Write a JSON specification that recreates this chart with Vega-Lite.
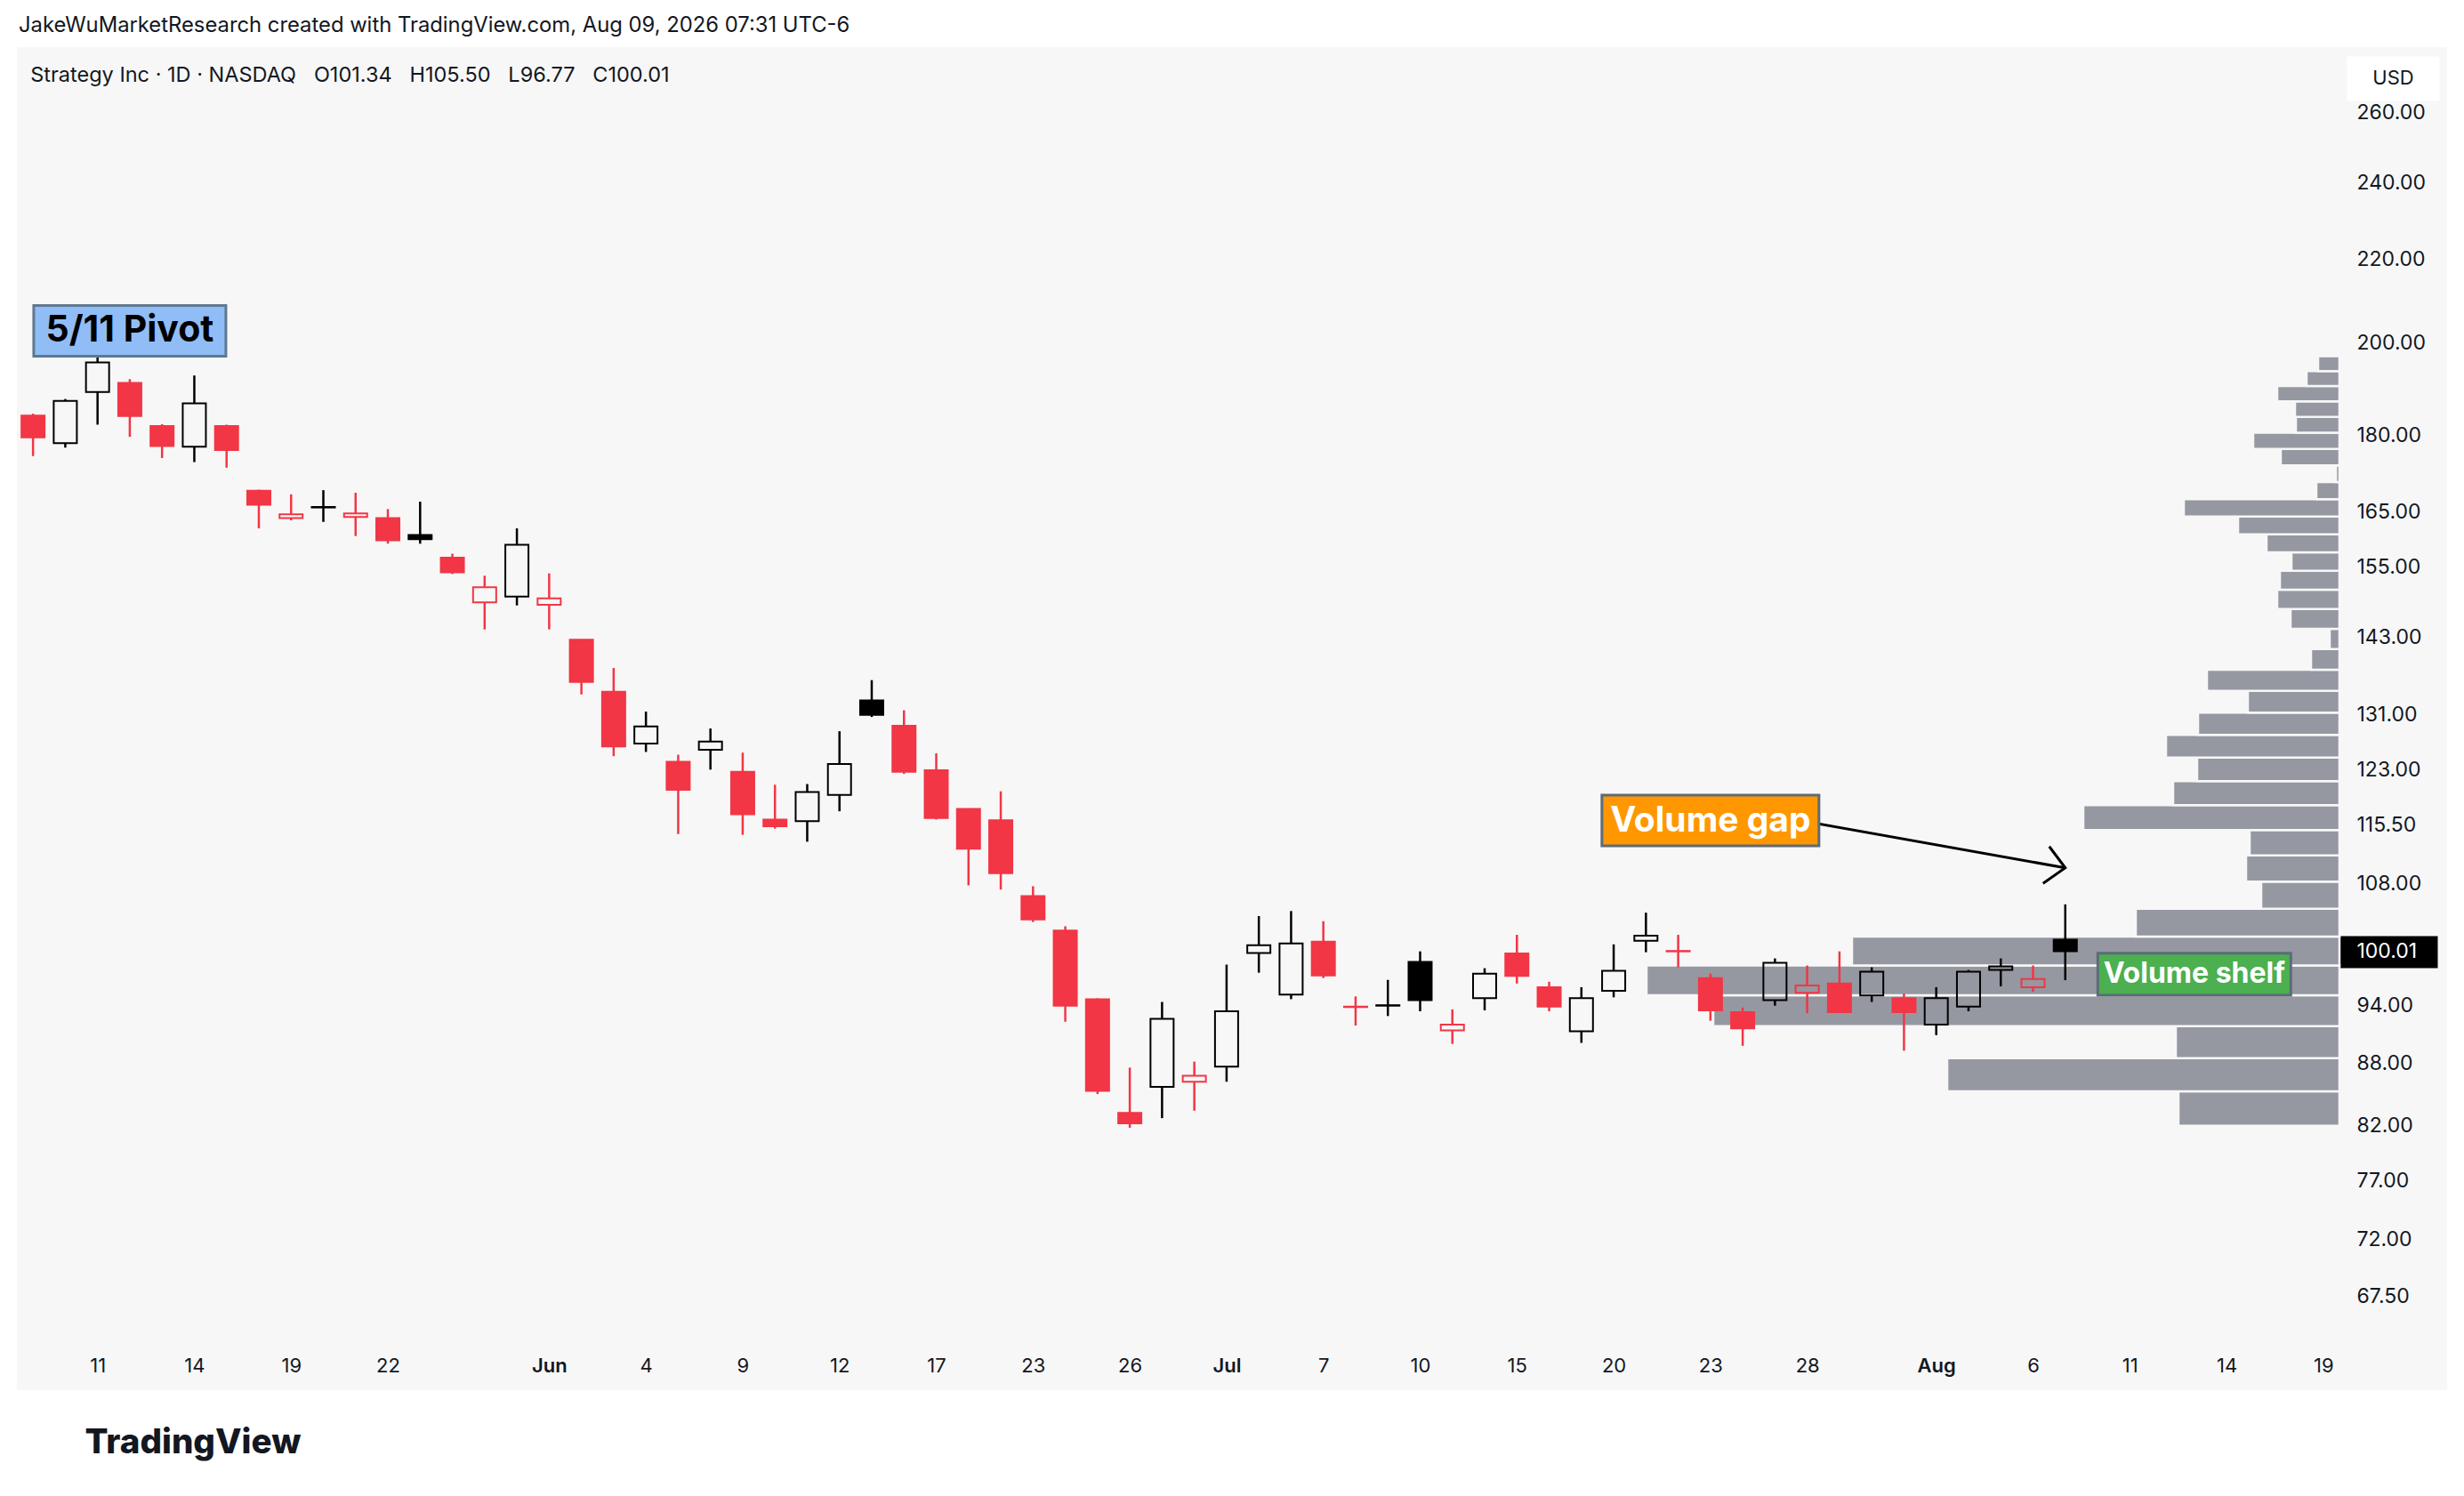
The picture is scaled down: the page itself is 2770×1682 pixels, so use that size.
{
  "$schema": "https://vega.github.io/schema/vega-lite/v6.json",
  "autosize": {"type": "none"},
  "padding": {"left": 19, "top": 53, "right": 19, "bottom": 119},
  "width": 2732,
  "height": 1510,
  "config": {
    "background": "#ffffff",
    "view": {"fill": "#f7f7f7", "stroke": null},
    "font": "Inter"
  },
  "title": {
    "text": "JakeWuMarketResearch created with TradingView.com, Aug 09, 2026 07:31 UTC-6",
    "subtitle": "\u200b\u00a0\u00a0Strategy Inc · 1D · NASDAQ\u00a0\u00a0\u00a0O101.34\u00a0\u00a0\u00a0H105.50\u00a0\u00a0\u00a0L96.77\u00a0\u00a0\u00a0C100.01",
    "anchor": "start",
    "frame": "group",
    "offset": -85,
    "subtitlePadding": 32,
    "dx": 2,
    "font": "Inter",
    "fontSize": 23.8,
    "fontWeight": "normal",
    "color": "#131722",
    "subtitleFont": "Inter",
    "subtitleFontSize": 23.5,
    "subtitleColor": "#131722"
  },
  "datasets": {
    "candles": [
      {"date": "2026-05-07", "open": 184.1, "high": 184.5, "low": 175.8, "close": 179.6},
      {"date": "2026-05-08", "open": 178.4, "high": 187.6, "low": 177.5, "close": 187.2},
      {"date": "2026-05-11", "open": 189.1, "high": 197.5, "low": 182.2, "close": 195.6},
      {"date": "2026-05-12", "open": 191.1, "high": 191.9, "low": 179.7, "close": 184.0},
      {"date": "2026-05-13", "open": 181.9, "high": 182.3, "low": 175.4, "close": 177.8},
      {"date": "2026-05-14", "open": 177.7, "high": 192.7, "low": 174.6, "close": 186.7},
      {"date": "2026-05-15", "open": 181.9, "high": 182.2, "low": 173.5, "close": 177.0},
      {"date": "2026-05-18", "open": 169.0, "high": 169.2, "low": 161.9, "close": 166.3},
      {"date": "2026-05-19", "open": 163.8, "high": 168.3, "low": 163.4, "close": 164.5},
      {"date": "2026-05-20", "open": 165.8, "high": 169.1, "low": 163.1, "close": 165.9},
      {"date": "2026-05-21", "open": 164.0, "high": 168.6, "low": 160.5, "close": 164.7},
      {"date": "2026-05-22", "open": 163.8, "high": 165.5, "low": 159.1, "close": 159.7},
      {"date": "2026-05-26", "open": 160.7, "high": 166.9, "low": 159.1, "close": 159.9},
      {"date": "2026-05-27", "open": 156.6, "high": 157.3, "low": 153.7, "close": 154.0},
      {"date": "2026-05-28", "open": 148.8, "high": 153.4, "low": 144.3, "close": 151.4},
      {"date": "2026-05-29", "open": 149.8, "high": 161.9, "low": 148.3, "close": 158.9},
      {"date": "2026-06-01", "open": 148.4, "high": 153.8, "low": 144.3, "close": 149.5},
      {"date": "2026-06-02", "open": 142.6, "high": 142.7, "low": 134.0, "close": 135.9},
      {"date": "2026-06-03", "open": 134.4, "high": 138.1, "low": 124.9, "close": 126.3},
      {"date": "2026-06-04", "open": 126.7, "high": 131.4, "low": 125.5, "close": 129.2},
      {"date": "2026-06-05", "open": 124.1, "high": 125.1, "low": 114.3, "close": 120.2},
      {"date": "2026-06-08", "open": 125.8, "high": 128.9, "low": 123.0, "close": 127.0},
      {"date": "2026-06-09", "open": 122.7, "high": 125.4, "low": 114.2, "close": 116.9},
      {"date": "2026-06-10", "open": 116.2, "high": 120.9, "low": 115.0, "close": 115.3},
      {"date": "2026-06-11", "open": 116.0, "high": 121.0, "low": 113.3, "close": 119.9},
      {"date": "2026-06-12", "open": 119.5, "high": 128.5, "low": 117.3, "close": 123.8},
      {"date": "2026-06-15", "open": 133.1, "high": 136.2, "low": 130.6, "close": 130.9},
      {"date": "2026-06-16", "open": 129.3, "high": 131.6, "low": 122.4, "close": 122.7},
      {"date": "2026-06-17", "open": 122.9, "high": 125.3, "low": 116.2, "close": 116.4},
      {"date": "2026-06-18", "open": 117.6, "high": 117.7, "low": 107.8, "close": 112.4},
      {"date": "2026-06-22", "open": 116.1, "high": 120.0, "low": 107.3, "close": 109.3},
      {"date": "2026-06-23", "open": 106.5, "high": 107.7, "low": 103.4, "close": 103.7},
      {"date": "2026-06-24", "open": 102.4, "high": 102.9, "low": 92.3, "close": 94.0},
      {"date": "2026-06-25", "open": 94.7, "high": 94.8, "low": 85.0, "close": 85.3},
      {"date": "2026-06-26", "open": 83.2, "high": 87.6, "low": 81.8, "close": 82.2},
      {"date": "2026-06-29", "open": 85.7, "high": 94.4, "low": 82.7, "close": 92.6},
      {"date": "2026-06-30", "open": 86.2, "high": 88.2, "low": 83.4, "close": 86.8},
      {"date": "2026-07-01", "open": 87.7, "high": 98.5, "low": 86.2, "close": 93.4},
      {"date": "2026-07-02", "open": 99.8, "high": 104.1, "low": 97.6, "close": 100.7},
      {"date": "2026-07-06", "open": 95.2, "high": 104.7, "low": 94.7, "close": 100.9},
      {"date": "2026-07-07", "open": 101.1, "high": 103.5, "low": 97.0, "close": 97.3},
      {"date": "2026-07-08", "open": 93.9, "high": 95.0, "low": 91.9, "close": 93.85},
      {"date": "2026-07-09", "open": 94.0, "high": 96.8, "low": 92.9, "close": 94.05},
      {"date": "2026-07-10", "open": 98.8, "high": 100.0, "low": 93.4, "close": 94.6},
      {"date": "2026-07-13", "open": 91.4, "high": 93.6, "low": 90.0, "close": 92.0},
      {"date": "2026-07-14", "open": 94.8, "high": 98.1, "low": 93.5, "close": 97.5},
      {"date": "2026-07-15", "open": 99.75, "high": 101.9, "low": 96.4, "close": 97.25},
      {"date": "2026-07-16", "open": 96.0, "high": 96.6, "low": 93.4, "close": 93.9},
      {"date": "2026-07-17", "open": 91.3, "high": 96.0, "low": 90.1, "close": 94.8},
      {"date": "2026-07-20", "open": 95.6, "high": 100.8, "low": 94.9, "close": 97.8},
      {"date": "2026-07-21", "open": 101.2, "high": 104.5, "low": 99.9, "close": 101.8},
      {"date": "2026-07-22", "open": 100.05, "high": 101.9, "low": 98.2, "close": 100.0},
      {"date": "2026-07-23", "open": 97.0, "high": 97.5, "low": 92.4, "close": 93.5},
      {"date": "2026-07-24", "open": 93.3, "high": 93.8, "low": 89.8, "close": 91.6},
      {"date": "2026-07-27", "open": 94.6, "high": 99.2, "low": 94.0, "close": 98.7},
      {"date": "2026-07-28", "open": 95.4, "high": 98.4, "low": 93.2, "close": 96.2},
      {"date": "2026-07-29", "open": 96.4, "high": 100.0, "low": 93.2, "close": 93.3},
      {"date": "2026-07-30", "open": 95.1, "high": 98.2, "low": 94.4, "close": 97.7},
      {"date": "2026-07-31", "open": 94.8, "high": 95.3, "low": 89.3, "close": 93.3},
      {"date": "2026-08-03", "open": 92.0, "high": 96.0, "low": 90.9, "close": 94.8},
      {"date": "2026-08-04", "open": 93.9, "high": 97.9, "low": 93.4, "close": 97.7},
      {"date": "2026-08-05", "open": 97.9, "high": 99.2, "low": 96.1, "close": 98.3},
      {"date": "2026-08-06", "open": 96.0, "high": 98.4, "low": 95.5, "close": 96.9},
      {"date": "2026-08-07", "open": 101.34, "high": 105.5, "low": 96.77, "close": 100.01}
    ],
    "profile": [
      {"lo": 81.98, "hi": 85.27, "vol": 18.1},
      {"lo": 85.27, "hi": 88.55, "vol": 44.1},
      {"lo": 88.55, "hi": 91.84, "vol": 18.4},
      {"lo": 91.84, "hi": 95.12, "vol": 70.4},
      {"lo": 95.12, "hi": 98.41, "vol": 77.9},
      {"lo": 98.41, "hi": 101.69, "vol": 54.8},
      {"lo": 101.69, "hi": 104.98, "vol": 22.9},
      {"lo": 104.98, "hi": 108.26, "vol": 8.8},
      {"lo": 108.26, "hi": 111.55, "vol": 10.5},
      {"lo": 111.55, "hi": 114.83, "vol": 10.1},
      {"lo": 114.83, "hi": 118.12, "vol": 28.8},
      {"lo": 118.12, "hi": 121.4, "vol": 18.7},
      {"lo": 121.4, "hi": 124.69, "vol": 16.0},
      {"lo": 124.69, "hi": 127.97, "vol": 19.5},
      {"lo": 127.97, "hi": 131.26, "vol": 15.9},
      {"lo": 131.26, "hi": 134.54, "vol": 10.3},
      {"lo": 134.54, "hi": 137.83, "vol": 14.9},
      {"lo": 137.83, "hi": 141.11, "vol": 3.2},
      {"lo": 141.11, "hi": 144.4, "vol": 1.1},
      {"lo": 144.4, "hi": 147.68, "vol": 5.5},
      {"lo": 147.68, "hi": 150.97, "vol": 7.0},
      {"lo": 150.97, "hi": 154.25, "vol": 6.7},
      {"lo": 154.25, "hi": 157.54, "vol": 5.4},
      {"lo": 157.54, "hi": 160.82, "vol": 8.2},
      {"lo": 160.82, "hi": 164.11, "vol": 11.4},
      {"lo": 164.11, "hi": 167.39, "vol": 17.5},
      {"lo": 167.39, "hi": 170.68, "vol": 2.6},
      {"lo": 170.68, "hi": 173.96, "vol": 0.4},
      {"lo": 173.96, "hi": 177.25, "vol": 6.6},
      {"lo": 177.25, "hi": 180.53, "vol": 9.7},
      {"lo": 180.53, "hi": 183.82, "vol": 4.9},
      {"lo": 183.82, "hi": 187.1, "vol": 5.0},
      {"lo": 187.1, "hi": 190.39, "vol": 7.0},
      {"lo": 190.39, "hi": 193.67, "vol": 3.7},
      {"lo": 193.67, "hi": 196.96, "vol": 2.4}
    ],
    "notes": [
      {"text": "5/11 Pivot", "date": "2026-05-12", "lo": 197.0, "hi": 208.7, "mid": 202.8},
      {"text": "Volume gap", "date": "2026-07-23", "lo": 112.77, "hi": 119.47, "mid": 116.07},
      {"text": "Volume shelf", "date": "2026-08-13", "lo": 95.12, "hi": 99.79, "mid": 97.43}
    ],
    "arrow": [
      {"date": "2026-07-28", "price": 115.9},
      {"date": "2026-08-07", "price": 109.98}
    ]
  },
  "resolve": {"scale": {"x": "independent"}},
  "layer": [
    {
      "data": {"name": "profile"},
      "mark": {"type": "rect", "color": "#9598a1", "stroke": "#f7f7f7", "strokeWidth": 2.5},
      "encoding": {
        "x": {
          "field": "vol",
          "type": "quantitative",
          "scale": {"domain": [-12.1, 261.1], "range": [2732, 0], "nice": false, "zero": false},
          "axis": {
            "orient": "top",
            "offset": -10,
            "values": [-6],
            "labelExpr": "'USD'",
            "domain": false,
            "grid": false,
            "ticks": true,
            "tickSize": -50,
            "tickWidth": 104,
            "tickCap": "butt",
            "tickColor": "#ffffff",
            "labelPadding": 26,
            "labelBaseline": "middle",
            "labelAlign": "center",
            "labelAngle": 0,
            "labelFont": "Inter",
            "labelFontSize": 22,
            "labelColor": "#131722",
            "labelBound": false,
            "labelFlush": false,
            "labelOverlap": false,
            "title": null
          }
        },
        "x2": {"datum": 0},
        "y": {
          "field": "lo",
          "type": "quantitative",
          "scale": {"type": "log", "domain": [64.01, 280.1], "range": [1457, 0], "nice": false, "zero": false},
          "axis": {
            "orient": "right",
            "offset": -121,
            "values": [67.5, 72, 77, 82, 88, 94, 100.01, 108, 115.5, 123, 131, 143, 155, 165, 180, 200, 220, 240, 260],
            "format": ".2f",
            "domain": false,
            "grid": false,
            "ticks": true,
            "tickSize": 110,
            "tickCap": "butt",
            "tickWidth": {"condition": {"test": "datum.value == 100.01", "value": 36}, "value": 0},
            "tickColor": {"condition": {"test": "datum.value == 100.01", "value": "#000000"}, "value": "transparent"},
            "labelPadding": -91,
            "labelAlign": "left",
            "labelBaseline": "middle",
            "labelColor": {"condition": {"test": "datum.value == 100.01", "value": "#ffffff"}, "value": "#131722"},
            "labelFont": "Inter",
            "labelFontSize": 23,
            "labelOverlap": false,
            "labelBound": false,
            "labelFlush": false,
            "title": null
          }
        },
        "y2": {"field": "hi"}
      }
    },
    {
      "layer": [
        {
          "data": {"name": "candles"},
          "transform": [
            {"window": [{"op": "lag", "field": "close", "as": "prevClose"}], "sort": [{"field": "date"}]},
            {"calculate": "max(datum.open, datum.close)", "as": "bodyTop"},
            {"calculate": "min(datum.open, datum.close)", "as": "bodyBot"}
          ],
          "encoding": {
            "x": {
              "field": "date",
              "type": "ordinal",
              "scale": {
                "type": "point",
                "padding": 0.5,
                "range": [0, 2611],
                "domain": [
                  "2026-05-07", "2026-05-08", "2026-05-11", "2026-05-12", "2026-05-13", "2026-05-14", "2026-05-15",
                  "2026-05-18", "2026-05-19", "2026-05-20", "2026-05-21", "2026-05-22", "2026-05-26", "2026-05-27",
                  "2026-05-28", "2026-05-29", "2026-06-01", "2026-06-02", "2026-06-03", "2026-06-04", "2026-06-05",
                  "2026-06-08", "2026-06-09", "2026-06-10", "2026-06-11", "2026-06-12", "2026-06-15", "2026-06-16",
                  "2026-06-17", "2026-06-18", "2026-06-22", "2026-06-23", "2026-06-24", "2026-06-25", "2026-06-26",
                  "2026-06-29", "2026-06-30", "2026-07-01", "2026-07-02", "2026-07-06", "2026-07-07", "2026-07-08",
                  "2026-07-09", "2026-07-10", "2026-07-13", "2026-07-14", "2026-07-15", "2026-07-16", "2026-07-17",
                  "2026-07-20", "2026-07-21", "2026-07-22", "2026-07-23", "2026-07-24", "2026-07-27", "2026-07-28",
                  "2026-07-29", "2026-07-30", "2026-07-31", "2026-08-03", "2026-08-04", "2026-08-05", "2026-08-06",
                  "2026-08-07", "2026-08-10", "2026-08-11", "2026-08-12", "2026-08-13", "2026-08-14", "2026-08-17",
                  "2026-08-18", "2026-08-19"
                ]
              },
              "axis": {
                "values": [
                  "2026-05-11", "2026-05-14", "2026-05-19", "2026-05-22", "2026-06-01", "2026-06-04", "2026-06-09",
                  "2026-06-12", "2026-06-17", "2026-06-23", "2026-06-26", "2026-07-01", "2026-07-07", "2026-07-10",
                  "2026-07-15", "2026-07-20", "2026-07-23", "2026-07-28", "2026-08-03", "2026-08-06", "2026-08-11",
                  "2026-08-14", "2026-08-19"
                ],
                "labelExpr": "datum.value == '2026-06-01' ? 'Jun' : datum.value == '2026-07-01' ? 'Jul' : datum.value == '2026-08-03' ? 'Aug' : '' + toNumber(substring(datum.value, 8, 10))",
                "labelFontWeight": {"condition": {"test": "datum.value == '2026-06-01' || datum.value == '2026-07-01' || datum.value == '2026-08-03'", "value": 600}, "value": 400},
                "offset": -53,
                "domain": false,
                "ticks": false,
                "grid": false,
                "labelAngle": 0,
                "labelPadding": 25,
                "labelBaseline": "middle",
                "labelFont": "Inter",
                "labelFontSize": 22,
                "labelColor": "#131722",
                "labelOverlap": false,
                "labelBound": false,
                "labelFlush": false,
                "title": "TradingView",
                "titleX": 76,
                "titleY": 111,
                "titleAlign": "left",
                "titleBaseline": "middle",
                "titleFont": "Inter",
                "titleFontSize": 38.5,
                "titleFontWeight": 800,
                "titleColor": "#131722"
              }
            },
            "stroke": {"condition": {"test": "datum.prevClose != null && datum.close >= datum.prevClose", "value": "#000000"}, "value": "#f23645"}
          },
          "layer": [
            {
              "mark": {"type": "rule", "strokeWidth": 2.5},
              "encoding": {"y": {"field": "high", "type": "quantitative"}, "y2": {"field": "bodyTop"}}
            },
            {
              "mark": {"type": "rule", "strokeWidth": 2.5},
              "encoding": {"y": {"field": "bodyBot", "type": "quantitative"}, "y2": {"field": "low"}}
            },
            {
              "mark": {"type": "bar", "size": 26, "strokeWidth": 2},
              "encoding": {
                "y": {"field": "open", "type": "quantitative"},
                "y2": {"field": "close"},
                "fill": {
                  "condition": [
                    {"test": "datum.close > datum.open", "value": "transparent"},
                    {"test": "datum.prevClose != null && datum.close >= datum.prevClose", "value": "#000000"}
                  ],
                  "value": "#f23645"
                }
              }
            }
          ]
        },
        {
          "data": {"name": "arrow"},
          "mark": {"type": "line", "color": "#000000", "strokeWidth": 3},
          "encoding": {
            "x": {"field": "date", "type": "ordinal"},
            "y": {"field": "price", "type": "quantitative"}
          }
        },
        {
          "data": {"name": "arrow"},
          "transform": [{"filter": "datum.date == '2026-08-07'"}],
          "mark": {"type": "point", "shape": "M-0.9,-1.2L0,0L-1.25,0.88", "size": 1600, "filled": false, "stroke": "#000000", "strokeWidth": 3, "opacity": 1, "strokeJoin": "miter"},
          "encoding": {
            "x": {"field": "date", "type": "ordinal"},
            "y": {"field": "price", "type": "quantitative"}
          }
        },
        {
          "data": {"name": "notes"},
          "transform": [{"filter": "datum.text == '5/11 Pivot'"}],
          "mark": {"type": "bar", "size": 216, "fill": "#91bdf7", "stroke": "#5f7890", "strokeWidth": 3},
          "encoding": {
            "x": {"field": "date", "type": "ordinal"},
            "y": {"field": "lo", "type": "quantitative"},
            "y2": {"field": "hi"}
          }
        },
        {
          "data": {"name": "notes"},
          "transform": [{"filter": "datum.text == 'Volume gap'"}],
          "mark": {"type": "bar", "size": 244, "fill": "#ff9800", "stroke": "#5d6b78", "strokeWidth": 3},
          "encoding": {
            "x": {"field": "date", "type": "ordinal"},
            "y": {"field": "lo", "type": "quantitative"},
            "y2": {"field": "hi"}
          }
        },
        {
          "data": {"name": "notes"},
          "transform": [{"filter": "datum.text == 'Volume shelf'"}],
          "mark": {"type": "bar", "size": 217, "fill": "#4caf50", "stroke": "#5d6b78", "strokeWidth": 3},
          "encoding": {
            "x": {"field": "date", "type": "ordinal"},
            "y": {"field": "lo", "type": "quantitative"},
            "y2": {"field": "hi"}
          }
        },
        {
          "data": {"name": "notes"},
          "mark": {"type": "text", "font": "Inter", "fontWeight": 700, "align": "center", "baseline": "middle"},
          "encoding": {
            "x": {"field": "date", "type": "ordinal"},
            "y": {"field": "mid", "type": "quantitative"},
            "text": {"field": "text"},
            "color": {"condition": {"test": "datum.text == '5/11 Pivot'", "value": "#000000"}, "value": "#ffffff"},
            "size": {
              "condition": [
                {"test": "datum.text == 'Volume shelf'", "value": 32},
                {"test": "datum.text == 'Volume gap'", "value": 39}
              ],
              "value": 41
            }
          }
        }
      ]
    }
  ]
}
